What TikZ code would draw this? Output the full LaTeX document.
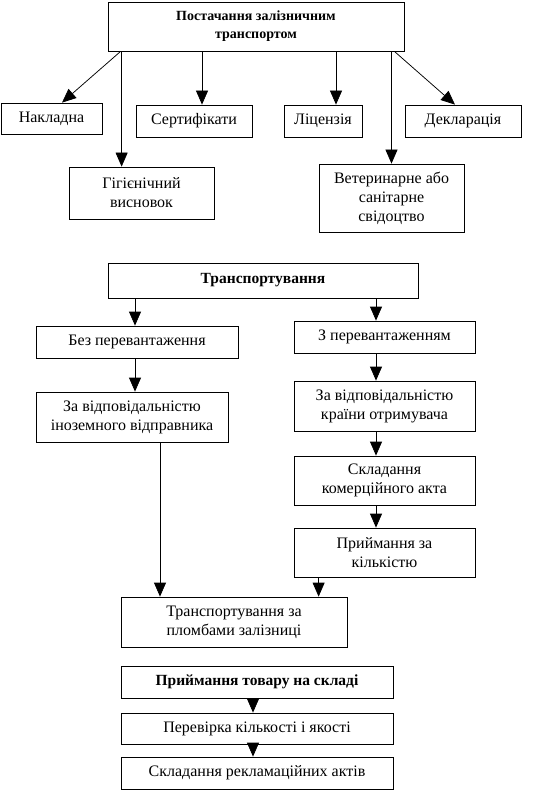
\documentclass[tikz,border=0pt]{standalone}
\usepackage{fontspec}
\setmainfont{Liberation Serif}
\usepackage{tikz}
\usetikzlibrary{positioning,arrows.meta}

\begin{document}
\begin{tikzpicture}[
  x=1pt, y=-1pt,
  blk/.style={draw, line width=0.75pt, inner sep=0pt, align=center,
              font=\fontsize{16}{19}\selectfont},
  head/.style={blk, font=\fontsize{15.5}{19}\selectfont\bfseries},
  >={Triangle[width=12pt,length=14pt]},
  every path/.style={line width=0.75pt}
]
  \useasboundingbox (0,0) rectangle (553,791);

  % documents on delivery
  \node[head, minimum width=296pt, minimum height=49pt, font=\fontsize{14}{18}\selectfont\bfseries] (post) at (256,26.5) {Постачання залізничним\\транспортом};
  \node[blk, minimum width=101pt, minimum height=31pt] (nakl) at (51.5,118.5) {Накладна};
  \node[blk, minimum width=145pt, minimum height=52pt] (hig) at (141.5,193) {Гігієнічний\\висновок};
  \node[blk, minimum width=116pt, minimum height=32pt] (sert) at (194,121) {Сертифікати};
  \node[blk, minimum width=78pt, minimum height=32pt] (lic) at (323,121) {Ліцензія};
  \node[blk, minimum width=116pt, minimum height=32pt] (decl) at (463,121) {Декларація};
  \node[blk, minimum width=145pt, minimum height=68pt] (vet) at (391.5,198) {Ветеринарне або\\санітарне\\свідоцтво};

  \draw[->] ([xshift=13pt]post.south west) -- ([xshift=10.5pt]nakl.north);
  \draw[->] ([xshift=14pt]post.south west) -- ([xshift=14pt]post.south west |- hig.north);
  \draw[->] ([xshift=8pt]sert.north |- post.south) -- ([xshift=8pt]sert.north);
  \draw[->] ([xshift=13pt]lic.north |- post.south) -- ([xshift=13pt]lic.north);
  \draw[->] (vet.north |- post.south) -- (vet.north);
  \draw[->] ([xshift=-10pt]post.south east) -- ([xshift=-8pt]decl.north);

  % transport
  \node[head, minimum width=310pt, minimum height=35pt] (tr) at (263,280.5) {Транспортування};
  \node[blk, minimum width=202pt, minimum height=32pt] (bez) at (137,342) {Без перевантаження};
  \node[blk, minimum width=192pt, minimum height=50pt] (zav1) at (132,417) {За відповідальністю\\іноземного відправника};
  \node[blk, minimum width=181pt, minimum height=32pt] (zper) at (384.5,337) {З перевантаженням};
  \node[blk, minimum width=181pt, minimum height=50pt] (zav2) at (384.5,406) {За відповідальністю\\країни отримувача};
  \node[blk, minimum width=181pt, minimum height=49pt] (sklad) at (384.5,480.5) {Складання\\комерційного акта};
  \node[blk, minimum width=181pt, minimum height=49pt] (prym) at (384.5,552.5) {Приймання за\\кількістю};
  \node[blk, minimum width=226pt, minimum height=50pt] (plom) at (234,622) {Транспортування за\\пломбами залізниці};

  \draw[->] ([xshift=-2pt]bez.north |- tr.south) -- ([xshift=-2pt]bez.north);
  \draw[->] ([xshift=-8.5pt]zper.north |- tr.south) -- ([xshift=-8.5pt]zper.north);
  \draw[->] ([xshift=-2pt]bez.south) -- ([xshift=-2pt]bez.south |- zav1.north);
  \draw[->] ([xshift=-8.5pt]zper.south) -- ([xshift=-8.5pt]zav2.north);
  \draw[->] ([xshift=-8.5pt]zav2.south) -- ([xshift=-8.5pt]sklad.north);
  \draw[->] ([xshift=-8.5pt]sklad.south) -- ([xshift=-8.5pt]prym.north);
  \draw[->] ([xshift=28pt]zav1.south) -- ([xshift=28pt]zav1.south |- plom.north);
  \draw[->] ([xshift=25pt]prym.south west) -- ([xshift=25pt]prym.south west |- plom.north);

  % acceptance at the warehouse
  \node[head, minimum width=272pt, minimum height=32pt] (pryt) at (257,682) {Приймання товару на складі};
  \node[blk, minimum width=272pt, minimum height=31pt] (perev) at (257,728.5) {Перевірка кількості і якості};
  \node[blk, minimum width=272pt, minimum height=32pt] (rekl) at (257,773) {Складання рекламаційних актів};

  \draw[->] ([xshift=-4pt]pryt.south) -- ([xshift=-4pt]perev.north);
  \draw[->] ([xshift=-4pt]perev.south) -- ([xshift=-4pt]rekl.north);
\end{tikzpicture}
\end{document}
